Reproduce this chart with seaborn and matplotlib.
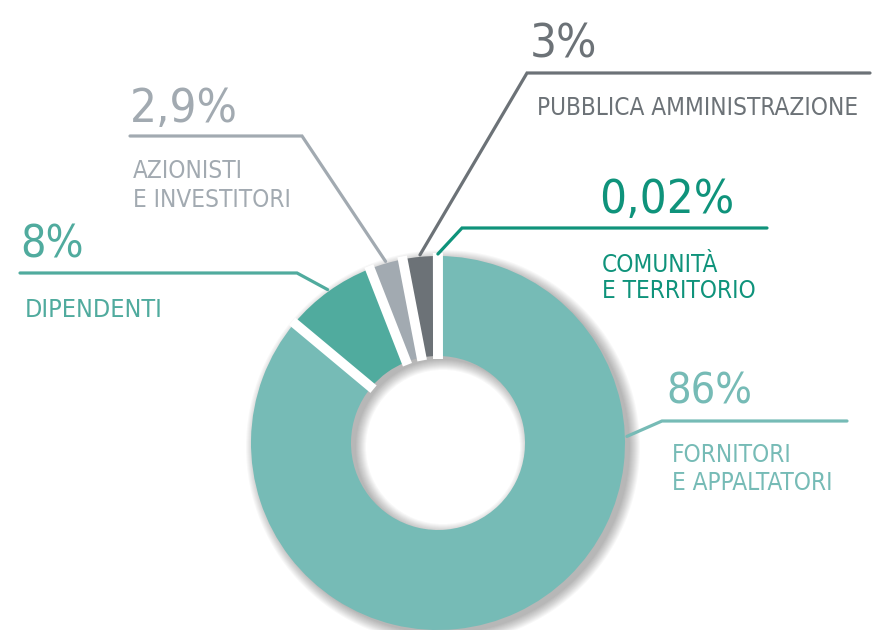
import matplotlib.pyplot as plt
import seaborn as sns
import numpy as np

sns.set_style("white")
plt.rcParams['font.family'] = ['DejaVu Sans']
plt.rcParams['font.stretch'] = 'condensed'

# data: pie order, counter-clockwise from 12 o'clock
categorie = ["COMUNITÀ\nE TERRITORIO", "PUBBLICA AMMINISTRAZIONE", "AZIONISTI\nE INVESTITORI",
             "DIPENDENTI", "FORNITORI\nE APPALTATORI"]
valori = [0.02, 3, 2.9, 8, 86]
etichette = ["0,02%", "3%", "2,9%", "8%", "86%"]
colori = ["#0f937b", "#6c7277", "#a2aab1", "#50ab9e", "#76bbb6"]

W, H = 875, 630
cx, cy = 438, H - 443
R, r = 187, 87
gap = 7

fig = plt.figure(figsize=(W / 100, H / 100), dpi=100)
ax = fig.add_axes([0, 0, 1, 1])

# soft drop shadow
for s in np.linspace(0, 10, 11):
    ax.pie([1], radius=R + s, center=(cx + 5, cy - 4), colors=["black"], startangle=90,
           wedgeprops=dict(width=(R - r) + 2 * s, alpha=0.026, linewidth=0))

wedges, _ = ax.pie(valori, colors=colori, startangle=90, counterclock=True,
                   radius=R, center=(cx, cy),
                   wedgeprops=dict(width=R - r, linewidth=0))

# white gaps between slices
for w in wedges:
    a = np.deg2rad(w.theta1)
    ax.plot([cx + (r - 3) * np.cos(a), cx + (R + 3) * np.cos(a)],
            [cy + (r - 3) * np.sin(a), cy + (R + 3) * np.sin(a)],
            color="white", lw=gap, solid_capstyle="butt", zorder=3)

# layout of leader lines (pixel coords from top): elbow, end of horizontal, texts
layout = [
    dict(elbow=(462, 228), end=767, num=(599, 213), lab=[(602, 272), (602, 298)], ang=None),
    dict(elbow=(527, 73), end=870, num=(530, 57), lab=[(537, 115)], ang=None),
    dict(elbow=(302, 136), end=130, num=(130, 122), lab=[(133, 178), (133, 207)], ang=None),
    dict(elbow=(297, 273), end=20, num=(20, 257), lab=[(25, 317)], ang=None),
    dict(elbow=(662, 421), end=847, num=(666, 403), lab=[(672, 462), (672, 490)], ang=2),
]
size_num = [34, 34, 34, 32, 31]
size_lab = [17.5, 17.5, 17.5, 18, 17.5]

for w, cat, et, col, L, sn, sl in zip(wedges, categorie, etichette, colori, layout, size_num, size_lab):
    ang = L["ang"] if L["ang"] is not None else (w.theta1 + w.theta2) / 2
    a = np.deg2rad(ang)
    px, py = cx + (R + 2) * np.cos(a), cy + (R + 2) * np.sin(a)
    ex, ey = L["elbow"]
    ax.plot([px, ex, L["end"]], [py, H - ey, H - ey], color=col, lw=2.3,
            solid_joinstyle="miter", zorder=5)
    ax.text(L["num"][0], H - L["num"][1], et, color=col, fontsize=sn, va="baseline", ha="left")
    for (tx, ty), riga in zip(L["lab"], cat.split("\n")):
        ax.text(tx, H - ty, riga, color=col, fontsize=sl, va="baseline", ha="left")

ax.set_xlim(0, W)
ax.set_ylim(0, H)
ax.set_aspect("equal")
ax.axis("off")

fig.savefig("out.png", dpi=100, facecolor="white")
